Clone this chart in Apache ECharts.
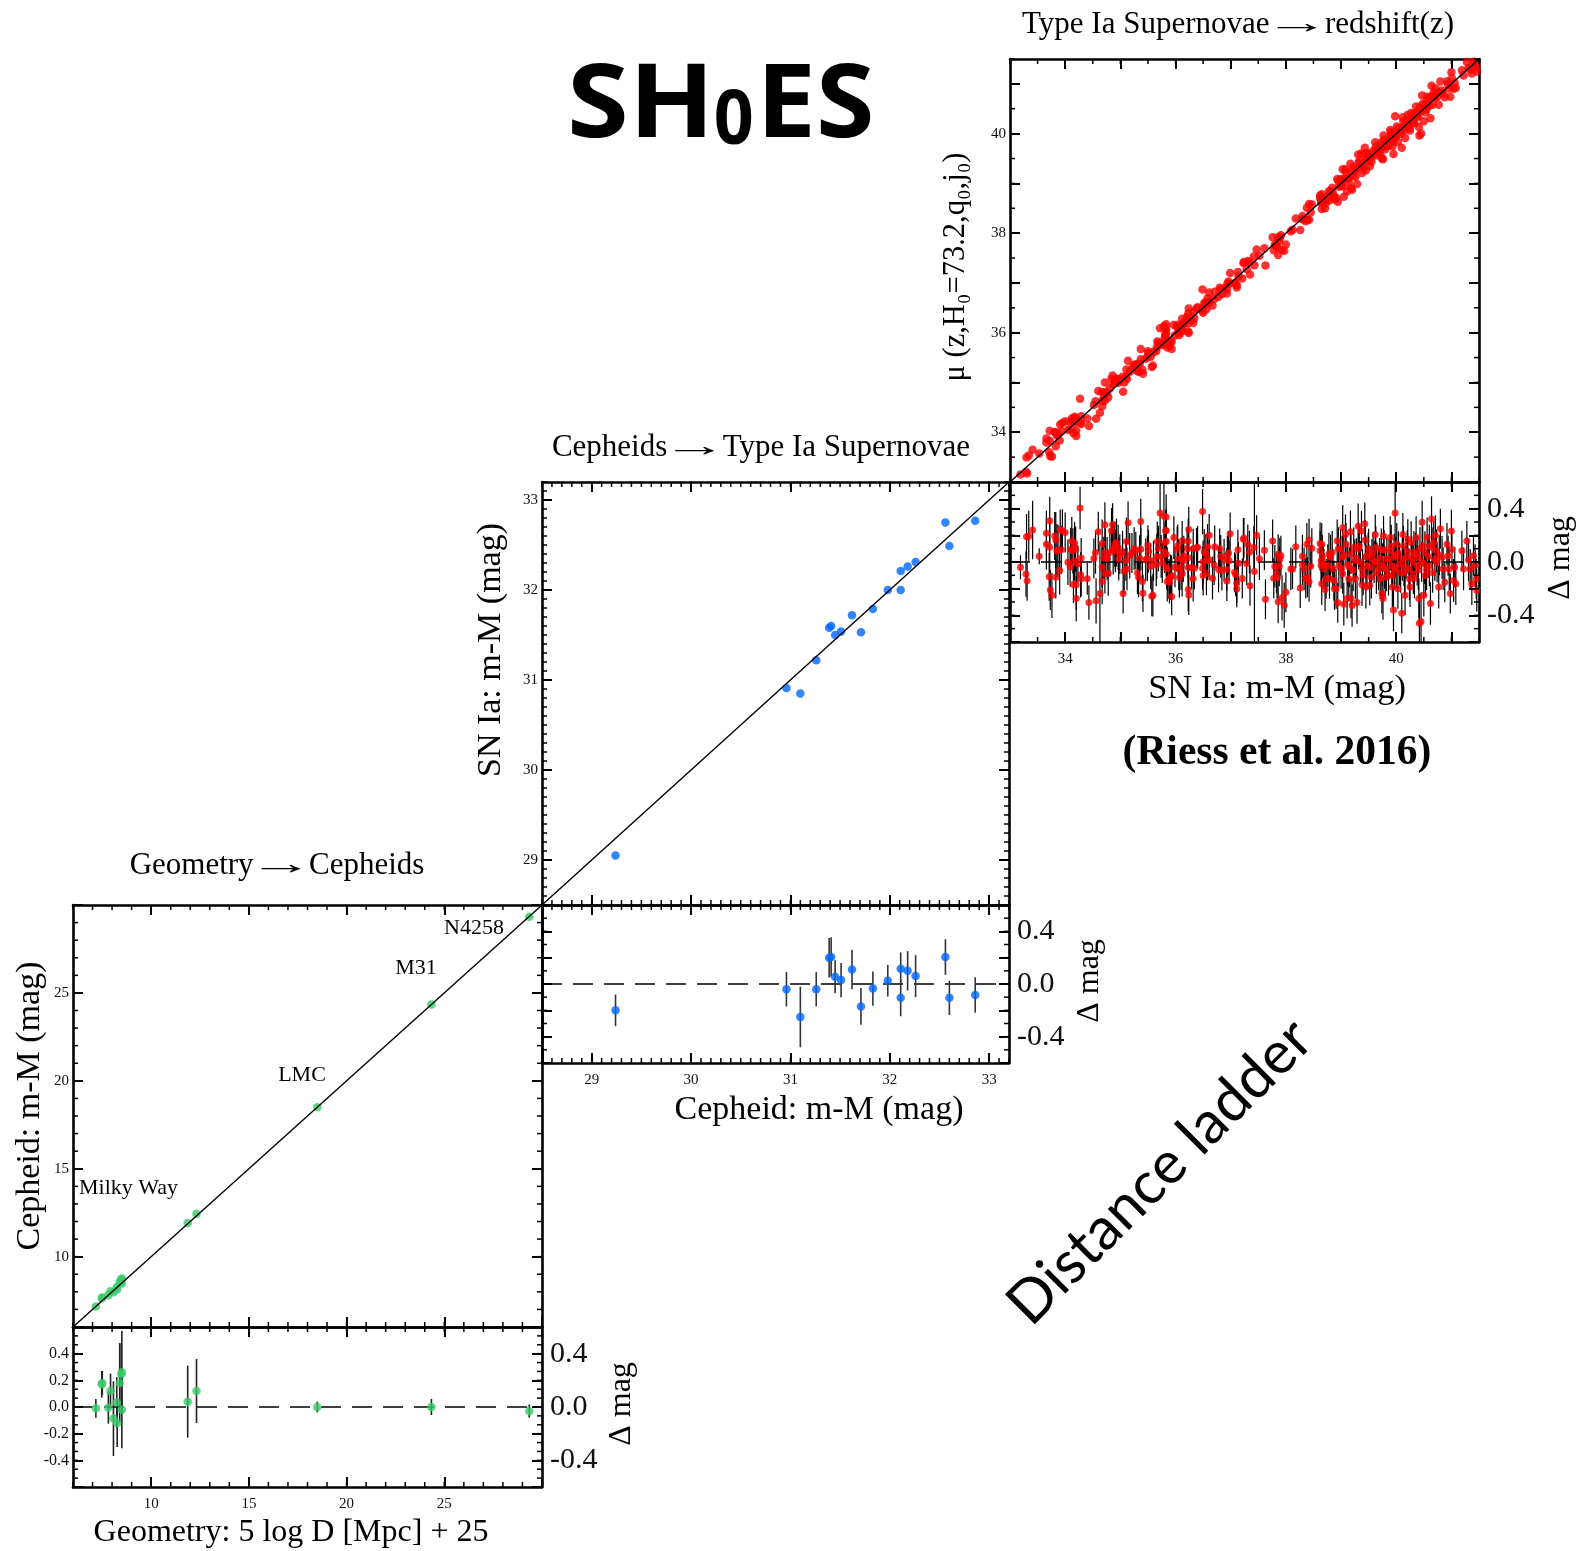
<!DOCTYPE html>
<html><head><meta charset="utf-8">
<script src="https://cdn.jsdelivr.net/npm/echarts@6/dist/echarts.min.js"></script>
<style>html,body{margin:0;padding:0;background:#fff}#c{width:1588px;height:1551px}</style>
</head><body><div id="c"></div>
<script>
// ---------------- DATA ----------------
// Panel 1 (bottom-left): Geometry -> Cepheids
const geoX     = [7.17, 7.47, 7.50, 7.81, 7.92, 8.07, 8.24, 8.26, 8.39, 8.47, 8.50, 8.50, 11.87, 12.32, 18.50, 24.34, 29.35];
const cephMu   = [7.16, 7.64, 7.68, 7.81, 8.04, 7.98, 8.27, 8.14, 8.57, 8.72, 8.76, 8.48, 11.91, 12.44, 18.50, 24.34, 29.33];
const geoResid = [-0.01, 0.17, 0.18, -0.005, 0.12, -0.087, 0.034, -0.12, 0.18, 0.245, 0.26, -0.02, 0.04, 0.12, 0.0, 0.0, -0.03];
const geoErr   = [0.07, 0.10, 0.09, 0.12, 0.13, 0.28, 0.19, 0.18, 0.30, 0.23, 0.31, 0.29, 0.27, 0.24, 0.04, 0.06, 0.05];
const geoNames = ['Milky Way', 'LMC', 'M31', 'N4258'];
// Panel 2 (middle): Cepheids -> SN Ia
const cephX     = [29.24, 30.96, 31.10, 31.26, 31.39, 31.41, 31.45, 31.51, 31.62, 31.71, 31.83, 31.98, 32.11, 32.11, 32.18, 32.26, 32.56, 32.60, 32.86];
const snMu      = [29.05, 30.91, 30.85, 31.22, 31.58, 31.60, 31.50, 31.54, 31.72, 31.53, 31.79, 32.00, 32.21, 32.00, 32.26, 32.31, 32.75, 32.49, 32.77];
const cephResid = [-0.20, -0.04, -0.25, -0.04, 0.20, 0.205, 0.055, 0.03, 0.11, -0.17, -0.035, 0.025, 0.115, -0.105, 0.10, 0.06, 0.205, -0.105, -0.083];
const cephErr   = [0.12, 0.13, 0.23, 0.13, 0.15, 0.15, 0.125, 0.13, 0.15, 0.14, 0.13, 0.12, 0.125, 0.14, 0.15, 0.16, 0.135, 0.13, 0.135];
// Panel 3 (top-right): SN Ia -> redshift.  [SN Ia m-M, residual (mu - m-M), error]
const snIa = [
[33.19,-0.04,0.09],[33.29,-0.09,0.17],[33.31,-0.14,0.15],[33.30,0.19,0.17],[33.34,0.195,0.19],[33.41,0.24,0.22],[33.53,0.044,0.06],[33.66,0.215,0.17],[33.66,0.133,0.19],[33.72,0.31,0.18],[33.72,0.11,0.19],[33.71,-0.11,0.18],[33.73,-0.21,0.15],[33.76,-0.25,0.17],[33.81,0.195,0.18],[33.83,0.165,0.21],[33.85,0.084,0.2],[33.83,-0.114,0.16],[33.87,0.089,0.19],[33.90,-0.064,0.18],[33.91,0.244,0.15],[33.93,0.091,0.18],[33.95,0.235,0.16],[34.00,0.222,0.15],[34.05,-0.002,0.17],[34.09,-0.035,0.15],[34.12,0.158,0.18],[34.10,0.096,0.16],[34.14,0.084,0.17],[34.17,0.141,0.16],[34.17,0.01,0.15],[34.15,-0.168,0.14],[34.19,0.096,0.17],[34.20,-0.17,0.19],[34.20,-0.274,0.17],[34.23,-0.015,0.14],[34.27,0.405,0.16],[34.29,0.03,0.15],[34.28,-0.096,0.17],[34.29,-0.126,0.13],[34.40,-0.126,0.12],[34.43,-0.304,0.13],[34.52,0.027,0.15],[34.55,0.072,0.16],[34.56,-0.291,0.17],[34.60,0.227,0.15],[34.63,-0.237,0.38],[34.67,0.138,0.18],[34.67,-0.04,0.15],[34.67,-0.146,0.17],[34.70,0.03,0.16],[34.72,-0.086,0.15],[34.72,0.279,0.17],[34.73,0.072,0.18],[34.76,0.027,0.16],[34.78,-0.084,0.17],[34.81,0.072,0.18],[34.84,0.235,0.17],[34.86,0.281,0.16],[34.87,0.096,0.19],[34.90,0.133,0.17],[34.91,0.084,0.16],[34.93,0.146,0.18],[34.96,0.109,0.17],[34.97,0.022,0.16],[34.99,0.059,0.15],[35.04,0.074,0.16],[35.05,-0.237,0.15],[35.07,-0.069,0.17],[35.11,0.153,0.18],[35.12,-0.052,0.16],[35.10,0.01,0.15],[35.14,0.294,0.16],[35.17,0.047,0.17],[35.21,0.067,0.15],[35.25,0.101,0.16],[35.28,0.086,0.14],[35.31,-0.081,0.16],[35.33,-0.114,0.15],[35.35,0.03,0.17],[35.37,0.304,0.17],[35.37,0.096,0.16],[35.40,-0.146,0.15],[35.41,-0.235,0.14],[35.46,0.017,0.16],[35.49,0.027,0.17],[35.50,0.126,0.15],[35.51,0.081,0.16],[35.55,-0.032,0.17],[35.57,-0.257,0.15],[35.59,-0.249,0.16],[35.60,0.01,0.15],[35.65,-0.022,0.16],[35.66,0.042,0.17],[35.67,0.153,0.15],[35.69,0.101,0.17],[35.72,0.368,0.27],[35.74,0.042,0.16],[35.76,-0.007,0.15],[35.79,0.343,0.32],[35.80,0.077,0.16],[35.82,0.235,0.15],[35.83,0.156,0.17],[35.84,-0.042,0.16],[35.85,-0.146,0.15],
[35.83,0.338,0.17],[35.83,0.237,0.16],[35.81,0.146,0.15],[35.83,0.059,0.17],[35.85,-0.052,0.16],[35.88,-0.126,0.15],[35.89,-0.151,0.16],[35.91,-0.114,0.17],[35.93,-0.101,0.15],[35.93,-0.259,0.14],[35.97,0.183,0.16],[35.99,-0.04,0.15],[36.03,0.096,0.17],[36.04,0.121,0.16],[36.05,0.022,0.15],[36.06,-0.052,0.16],[36.07,-0.116,0.15],[36.10,-0.04,0.17],[36.11,0.022,0.16],[36.12,0.158,0.15],[36.12,-0.089,0.17],[36.14,0.01,0.16],[36.15,0.047,0.15],[36.21,0.101,0.16],[36.23,0.156,0.17],[36.23,0.032,0.15],[36.23,-0.04,0.16],[36.24,0.244,0.17],[36.23,-0.207,0.16],[36.24,-0.247,0.15],[36.29,-0.044,0.16],[36.32,0.099,0.15],[36.32,-0.126,0.17],[36.34,-0.047,0.16],[36.38,0.106,0.15],[36.40,0.11,0.16],[36.49,0.378,0.17],[36.49,-0.047,0.16],[36.50,-0.101,0.15],[36.50,0.002,0.16],[36.52,0.077,0.17],[36.55,0.059,0.15],[36.56,-0.089,0.16],[36.58,0.012,0.15],[36.58,0.114,0.17],[36.61,0.2,0.16],[36.61,0.017,0.15],[36.67,-0.121,0.16],[36.70,-0.022,0.15],[36.71,0.114,0.16],[36.78,-0.057,0.17],[36.80,0.101,0.15],[36.82,0.042,0.16],[36.84,-0.064,0.15],[36.88,0.015,0.16],[36.93,-0.143,0.15],[36.93,-0.057,0.16],[36.94,0.047,0.15],[36.96,0.067,0.16],[36.97,0.01,0.15],[36.99,0.212,0.16],[37.07,-0.077,0.15],[37.09,-0.096,0.16],[37.11,-0.158,0.15],[37.11,-0.2,0.14],[37.13,0.091,0.15],[37.14,-0.01,0.16],[37.21,-0.123,0.15],[37.23,0.17,0.16],[37.24,0.18,0.15],[37.29,-0.012,0.16],[37.31,0.131,0.15],[37.34,0.074,0.16],[37.35,-0.178,0.15],[37.42,0.109,0.16],[37.43,-0.072,0.7],[37.47,0.2,0.15],[37.52,0.025,0.16],[37.61,0.089,0.15],[37.63,-0.279,0.15],[37.76,0.158,0.16],[37.78,-0.121,0.15],[37.80,-0.032,0.16],[37.83,-0.084,0.15],[37.84,-0.114,0.16],[37.86,0.059,0.15],[37.86,-0.299,0.16],[37.88,-0.032,0.15],[37.89,0.022,0.16],[37.91,0.047,0.15],[37.93,-0.269,0.17],[37.97,-0.323,0.17],[38.00,-0.227,0.15],[38.09,-0.052,0.16],[38.12,-0.052,0.15],[38.18,0.114,0.16],[38.26,-0.195,0.15],[38.30,0.044,0.16],[38.30,-0.022,0.15],[38.33,-0.052,0.16],[38.36,-0.121,0.15],[38.38,0.133,0.16],[38.39,-0.114,0.15],[38.42,0.165,0.16],[38.42,-0.148,0.15],[38.45,-0.032,0.16],[38.47,0.104,0.15],[38.62,0.138,0.16],[38.62,0.084,0.15],[38.64,0.01,0.16],[38.64,-0.027,0.15],[38.65,-0.163,0.16],[38.69,-0.052,0.15],[38.66,0.042,0.16],
[38.65,0.133,0.16],[38.68,-0.015,0.15],[38.71,-0.207,0.16],[38.73,-0.126,0.15],[38.76,-0.027,0.16],[38.79,-0.126,0.15],[38.81,0.035,0.17],[38.84,0.072,0.16],[38.87,-0.138,0.15],[38.88,-0.2,0.16],[38.91,-0.2,0.15],[38.93,0.158,0.16],[38.94,-0.306,0.15],[38.96,-0.027,0.16],[38.99,0.096,0.15],[39.02,0.035,0.16],[39.03,0.257,0.17],[39.03,-0.089,0.15],[39.05,-0.316,0.16],[39.08,0.207,0.15],[39.09,0.133,0.16],[39.11,-0.274,0.15],[39.14,-0.126,0.16],[39.15,-0.04,0.15],[39.17,0.227,0.16],[39.18,-0.272,0.15],[39.20,-0.326,0.16],[39.23,0.109,0.15],[39.25,0.01,0.16],[39.26,-0.126,0.15],[39.29,-0.304,0.16],[39.31,0.269,0.17],[39.32,0.096,0.15],[39.35,-0.002,0.16],[39.37,0.232,0.15],[39.38,-0.17,0.16],[39.39,-0.052,0.15],[39.43,0.286,0.16],[39.44,0.165,0.15],[39.45,-0.188,0.16],[39.47,-0.027,0.15],[39.49,0.059,0.16],[39.52,-0.175,0.15],[39.55,-0.114,0.16],[39.56,0.022,0.15],[39.60,0.002,0.16],[39.62,0.207,0.15],[39.63,0.109,0.16],[39.65,-0.002,0.15],[39.68,-0.052,0.16],[39.71,-0.126,0.15],[39.73,0.091,0.16],[39.74,-0.237,0.15],[39.76,-0.274,0.16],[39.77,0.195,0.15],[39.79,-0.04,0.16],[39.80,-0.114,0.15],[39.83,0.022,0.16],[39.86,-0.101,0.15],[39.89,0.183,0.16],[39.90,0.084,0.15],[39.92,-0.027,0.16],[39.93,-0.188,0.15],[39.95,-0.36,0.16],[39.97,-0.057,0.15],[39.98,0.368,0.32],[39.99,0.035,0.15],[40.01,0.133,0.16],[40.03,-0.2,0.15],[40.06,-0.015,0.16],[40.10,-0.385,0.15],[40.12,0.207,0.16],[40.13,0.121,0.15],[40.15,-0.077,0.16],[40.16,-0.249,0.15],[40.18,0.035,0.16],[40.21,0.17,0.15],[40.24,-0.126,0.16],[40.25,-0.188,0.15],[40.27,0.146,0.16],[40.30,-0.002,0.15],[40.32,0.072,0.16],[40.33,-0.121,0.15],[40.36,0.183,0.16],[40.38,-0.027,0.15],[40.39,0.035,0.16],[40.41,-0.274,0.15],[40.42,-0.459,0.22],[40.45,-0.447,0.22],[40.47,0.299,0.16],[40.48,0.121,0.15],[40.50,-0.249,0.16],[40.51,-0.015,0.15],[40.53,-0.101,0.16],[40.56,0.183,0.15],[40.58,0.042,0.16],[40.60,-0.032,0.15],[40.62,-0.311,0.16],[40.64,0.323,0.17],[40.65,0.109,0.15],[40.68,0.146,0.16],[40.71,0.2,0.15],[40.73,0.084,0.16],[40.74,-0.002,0.15],[40.77,-0.188,0.16],[40.80,0.249,0.15],[40.83,0.035,0.16],[40.88,-0.151,0.15],[40.92,0.133,0.16],[40.94,0.047,0.15],[40.96,-0.052,0.16],[40.98,-0.237,0.15],[41.00,0.232,0.16],[41.01,0.096,0.15],[41.04,-0.138,0.16],[41.06,-0.04,0.15],[41.08,-0.163,0.16],[41.19,0.084,0.15],[41.22,-0.052,0.16],[41.28,0.158,0.15],[41.31,0.015,0.16],[41.34,-0.052,0.15],[41.37,-0.163,0.16],[41.40,0.047,0.15],[41.43,-0.027,0.16],[41.45,-0.126,0.15],[41.46,-0.212,0.16],
[39.05,0.05,0.15],[39.12,-0.02,0.16],[39.18,0.06,0.15],[39.22,-0.06,0.16],[39.28,0.03,0.15],[39.33,0.12,0.16],[39.40,-0.10,0.15],[39.45,0.04,0.16],[39.50,0.10,0.15],[39.53,-0.04,0.16],[39.58,0.07,0.15],[39.64,-0.08,0.16],[39.70,0.03,0.15],[39.75,-0.02,0.16],[39.78,0.09,0.15],[39.82,-0.06,0.16],[39.87,0.02,0.15],[39.91,0.12,0.16],[39.94,-0.10,0.15],[39.96,0.05,0.16],[40.00,-0.05,0.15],[40.04,0.07,0.16],[40.08,-0.08,0.15],[40.11,0.02,0.16],[40.14,-0.03,0.15],[40.20,0.08,0.16],[40.23,-0.05,0.15],[40.28,0.03,0.16],[40.31,-0.09,0.15],[40.35,0.06,0.16],[40.40,-0.06,0.15],[40.43,0.10,0.16],[40.46,0.00,0.15],[40.52,0.07,0.16],[40.55,-0.06,0.15],[40.60,0.12,0.16],[40.66,-0.08,0.15],[40.70,0.02,0.16],[40.78,0.05,0.15],[40.85,-0.05,0.16],[39.00,-0.05,0.15],[38.95,0.10,0.16],[38.85,-0.05,0.15],[38.78,0.06,0.16]
];
// One-to-one lines and zero lines
const fitGeo  = [[6, 6], [30, 30]];
const fitCeph = [[28.5, 28.5], [33.2, 33.2]];
const fitSn   = [[33, 33], [41.5, 41.5]];
const zeroSn = [[33, 0], [41.5, 0]], zeroCeph = [[28.5, 0], [33.2, 0]], zeroGeo = [[6, 0], [30, 0]];
// Tick labels
const labSnX   = [34, 36, 38, 40];
const labCephX = [29, 30, 31, 32, 33];
const labGeoX  = [10, 15, 20, 25];
const labResBig   = [-0.4, 0, 0.4];
const labResSmall = [-0.4, -0.2, 0, 0.2, 0.4];

// ---------------- LAYOUT ----------------
const SERIF = '"Liberation Serif","Times New Roman",serif';
const grids = [], xAxes = [], yAxes = [], series = [], panels = [];
function steps(a, b, s) { const out = []; const n = Math.round((b - a) / s + 1e-9); for (let i = 0; i <= n; i++) out.push(+(a + i * s).toFixed(6)); return out; }
function mkAxis(gi, pos, lim, ticks, label) {
  return {
    type: 'value', gridIndex: gi, position: pos, min: lim[0], max: lim[1],
    axisLine: { show: true, onZero: false, lineStyle: { color: '#000', width: 2.6 } },
    axisTick: { show: true, inside: true, length: 10, customValues: ticks, lineStyle: { color: '#000', width: 2 } },
    axisLabel: label ? Object.assign({ show: true, fontFamily: SERIF, color: '#111', hideOverlap: false }, label) : { show: false },
    splitLine: { show: false }, minorTick: { show: false }
  };
}
function panel(rect, xr, yr, xMaj, xMin, yMaj, yMin, lab) {
  const gi = grids.length;
  grids.push({ left: rect[0], top: rect[1], width: rect[2], height: rect[3] });
  const xi = xAxes.length, yi = yAxes.length;
  xAxes.push(mkAxis(gi, 'bottom', xr, xMaj, lab.xb || null));
  xAxes.push(mkAxis(gi, 'top', xr, xMaj, null));
  yAxes.push(mkAxis(gi, 'left', yr, yMaj, lab.yl || null));
  yAxes.push(mkAxis(gi, 'right', yr, yMaj, lab.yr || null));
  const p = { xi, yi, xr, yr, xMin, yMin };
  panels.push(p);
  return p;
}
const fmtInt = v => String(Math.round(v));
const fmt1 = v => v.toFixed(1);
const smallLab = (vals) => ({ customValues: vals, fontSize: 15, margin: 4, formatter: fmtInt });
const botLab = (vals) => ({ customValues: vals, fontSize: 15, margin: 10, formatter: fmtInt });
const bigLab = { customValues: labResBig, fontSize: 30, margin: 8, formatter: fmt1 };

const resR = [-0.6, 0.6];
const A = panel([1010, 59, 469, 423], [33, 41.5], [33, 41.5], steps(34, 41, 1), steps(33, 41.5, 0.5), steps(34, 41, 1), steps(33, 41.5, 0.5), { yl: smallLab(labSnX) });
const B = panel([1010, 482, 469, 160], [33, 41.5], resR, steps(34, 41, 1), steps(33, 41.5, 0.5), steps(-0.6, 0.6, 0.2), steps(-0.6, 0.6, 0.1), { xb: botLab(labSnX), yr: bigLab });
const C = panel([542, 482, 467, 423], [28.5, 33.2], [28.5, 33.2], steps(29, 33, 1), steps(28.5, 33.2, 0.1), steps(29, 33, 1), steps(28.5, 33.2, 0.1), { yl: smallLab(labCephX) });
const D = panel([542, 905, 467, 158], [28.5, 33.2], resR, steps(29, 33, 1), steps(28.5, 33.2, 0.1), steps(-0.6, 0.6, 0.2), steps(-0.6, 0.6, 0.1), { xb: botLab(labCephX), yr: bigLab });
const E = panel([73, 905, 469, 422], [6, 30], [6, 30], steps(10, 30, 5), steps(6, 30, 1), steps(10, 30, 5), steps(6, 30, 1), { yl: smallLab(labGeoX) });
const F = panel([73, 1327, 469, 160], [6, 30], resR, steps(10, 30, 5), steps(6, 30, 1), steps(-0.6, 0.6, 0.2), steps(-0.6, 0.6, 0.2 / 3), { xb: botLab(labGeoX), yl: { customValues: labResSmall, fontSize: 16, margin: 4, formatter: fmt1 }, yr: bigLab });

function scatter(p, data, color, size) {
  return { type: 'scatter', xAxisIndex: p.xi, yAxisIndex: p.yi, data, symbolSize: size, itemStyle: { color }, z: 3, silent: true, animation: false };
}
function line(p, data, dashed) {
  return { type: 'line', xAxisIndex: p.xi, yAxisIndex: p.yi, data, symbol: 'none', silent: true, animation: false, z: dashed ? 1 : 4,
    lineStyle: { color: '#000', width: dashed ? 1.5 : 1.4, type: dashed ? [20, 11] : 'solid' } };
}
function errs(p, data, color, w) {
  return { type: 'custom', xAxisIndex: p.xi, yAxisIndex: p.yi, data, encode: { x: 0, y: 1 }, z: 2, silent: true, animation: false,
    renderItem(params, api) {
      const x = api.value(0), y = api.value(1), e = api.value(2);
      const a = api.coord([x, Math.min(y + e, p.yr[1])]), b = api.coord([x, Math.max(y - e, p.yr[0])]);
      return { type: 'line', shape: { x1: a[0], y1: a[1], x2: b[0], y2: b[1] }, style: { stroke: color, lineWidth: w } };
    } };
}
const RED = '#ff0000', BLUE = '#0066ff', GREEN = '#33cc66';
// SN panel: model distance = SN m-M + residual
series.push(scatter(A, snIa.map(p => [p[0], p[0] + p[1]]), RED, 8.5), line(A, fitSn, false));
series.push(line(B, zeroSn, true), errs(B, snIa, '#000', 1.2), scatter(B, snIa.map(p => [p[0], p[1]]), RED, 7));
series.push(scatter(C, cephX.map((x, i) => [x, snMu[i]]), BLUE, 8.5), line(C, fitCeph, false));
series.push(line(D, zeroCeph, true), errs(D, cephX.map((x, i) => [x, cephResid[i], cephErr[i]]), '#333', 1.6), scatter(D, cephX.map((x, i) => [x, cephResid[i]]), BLUE, 8.5));
series.push(scatter(E, geoX.map((x, i) => [x, cephMu[i]]), GREEN, 8.5), line(E, fitGeo, false));
series.push(line(F, zeroGeo, true), errs(F, geoX.map((x, i) => [x, geoResid[i], geoErr[i]]), '#222', 1.6), scatter(F, geoX.map((x, i) => [x, geoResid[i]]), GREEN, 8.5));

// ---------------- TEXT ----------------
const mctx = document.createElement('canvas').getContext('2d');
function tw(font, s) { mctx.font = font; return mctx.measureText(s).width; }
function fontOf(size, weight, family) { return (weight || 'normal') + ' ' + size + 'px ' + (family || SERIF); }
function txt(s, x, y, size, opts) {
  opts = opts || {};
  const al = opts.align || 'center';
  return { type: 'text', x, y, rotation: opts.rot || 0, scaleX: opts.sx || 1, silent: true,
    style: { text: s, font: opts.font || fontOf(size, opts.weight, opts.family), fill: '#000', align: al, verticalAlign: 'middle', textAlign: al, textVerticalAlign: 'middle' } };
}
function arrowTitle(left, right, cx, cy, size) {
  const f = fontOf(size), ARW = 2.1;
  mctx.font = f; mctx.textAlign = 'left';
  const m = mctx.measureText('\u2192');
  const inkW = (m.actualBoundingBoxLeft + m.actualBoundingBoxRight) * ARW;
  const wl = tw(f, left + ' '), wr = tw(f, ' ' + right);
  const x0 = cx - (wl + inkW + wr) / 2;
  return [
    txt(left + ' ', x0, cy, size, { align: 'left' }),
    txt('\u2192', x0 + wl + m.actualBoundingBoxLeft * ARW, cy, size, { align: 'left', sx: ARW }),
    txt(' ' + right, x0 + wl + inkW, cy, size, { align: 'left' })
  ];
}
const fBig = 'bold 102px "Open Sans"', fSub = 'bold 76px "Open Sans"';
const SX_SH = 1.1, SX_0 = 0.92, SX_ES = 1.04;
const sx0 = 567, sx1 = sx0 + tw(fBig, 'SH') * SX_SH - 1, sx2 = sx1 + tw(fSub, '0') * SX_0 + 3;
const graphics = [
  txt('SH', sx0, 108, 102, { font: fBig, align: 'left', sx: SX_SH }),
  txt('0', sx1, 122, 76, { font: fSub, align: 'left', sx: SX_0 }),
  txt('ES', sx2, 108, 102, { font: fBig, align: 'left', sx: SX_ES }),
  ...arrowTitle('Type Ia Supernovae', 'redshift(z)', 1238, 25, 31),
  ...arrowTitle('Cepheids', 'Type Ia Supernovae', 761, 448, 31),
  ...arrowTitle('Geometry', 'Cepheids', 277, 866, 31),
  txt('\u03bc (z,H\u2080=73.2,q\u2080,j\u2080)', 956, 267, 30.5, { rot: Math.PI / 2 }),
  txt('SN Ia: m-M (mag)', 1277, 689, 34.5),
  txt('(Riess et al. 2016)', 1277, 753, 41.5, { weight: 'bold' }),
  txt('\u0394 mag', 1561, 558, 32, { rot: Math.PI / 2 }),
  txt('SN Ia: m-M (mag)', 491, 650, 34, { rot: Math.PI / 2 }),
  txt('Cepheid: m-M (mag)', 819, 1110, 34),
  txt('\u0394 mag', 1090, 981, 32, { rot: Math.PI / 2 }),
  txt('Cepheid: m-M (mag)', 30, 1106, 34, { rot: Math.PI / 2 }),
  txt('Geometry: 5 log D [Mpc] + 25', 291, 1533, 32),
  txt('\u0394 mag', 622, 1404, 32, { rot: Math.PI / 2 }),
  txt(geoNames[0], 79, 1188, 22, { align: 'left' }),
  txt(geoNames[1], 302, 1075, 22),
  txt(geoNames[2], 416, 968, 22),
  txt(geoNames[3], 474, 928, 22),
  txt('Distance ladder', 1160, 1172, 59, { family: 'Lato', rot: Math.PI / 4 })
];

const chart = echarts.init(document.getElementById('c'), null, { renderer: 'canvas', width: 1588, height: 1551 });
chart.setOption({
  backgroundColor: '#ffffff',
  animation: false,
  grid: grids, xAxis: xAxes, yAxis: yAxes, series, graphic: graphics
});

// Minor (short, inward) ticks: positions converted through each panel's own axes
const L = 5;
function seg(x1, y1, x2, y2) {
  return { type: 'line', silent: true, z: 100, shape: { x1, y1, x2, y2 }, style: { stroke: '#000', lineWidth: 1.5 } };
}
const tickEls = [];
panels.forEach(p => {
  const conv = (x, y) => chart.convertToPixel({ xAxisIndex: p.xi, yAxisIndex: p.yi }, [x, y]);
  p.xMin.forEach(v => {
    const b = conv(v, p.yr[0]), t = conv(v, p.yr[1]);
    if (b && t) tickEls.push(seg(b[0], b[1], b[0], b[1] - L), seg(t[0], t[1], t[0], t[1] + L));
  });
  p.yMin.forEach(v => {
    const l = conv(p.xr[0], v), r = conv(p.xr[1], v);
    if (l && r) tickEls.push(seg(l[0], l[1], l[0] + L, l[1]), seg(r[0], r[1], r[0] - L, r[1]));
  });
});
chart.setOption({ graphic: graphics.concat(tickEls) });
</script>
</body></html>
